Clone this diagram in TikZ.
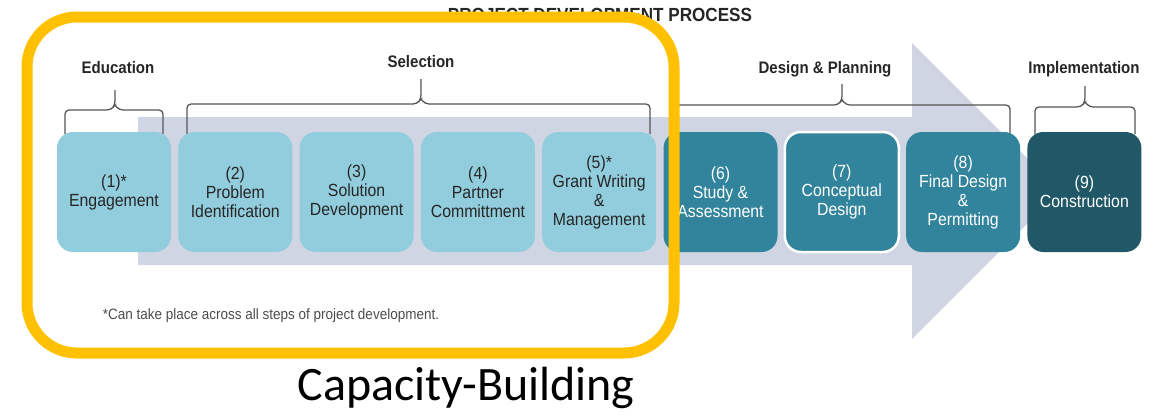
\documentclass[tikz,border=0pt]{standalone}
\usepackage{fontspec}
\usepackage{xcolor}
\usepackage{tikz}
\usetikzlibrary{positioning,calc}
\setmainfont{Liberation Sans}
\newfontfamily\narrowsans[FakeStretch=0.9]{Liberation Sans}
\newfontfamily\slidefont{Carlito}
\definecolor{stagelight}{RGB}{146,205,221}
\definecolor{stageteal}{RGB}{49,132,155}
\definecolor{stagedark}{RGB}{33,88,104}
\definecolor{flowgray}{RGB}{208,213,228}
\definecolor{capyellow}{RGB}{255,192,0}
\definecolor{bracegray}{RGB}{85,85,85}

\begin{document}
\begin{tikzpicture}[x=1pt,y=-1pt,
    stage/.style={rounded corners=16pt, minimum width=114pt, minimum height=120pt, inner sep=2pt, align=center, font=\narrowsans\fontsize{17.6}{19}\selectfont},
    early/.style={stage, fill=stagelight, text=black!85},
    late/.style={stage, fill=stageteal, text=white},
    built/.style={stage, fill=stagedark, text=white},
    phase/.style={font=\narrowsans\bfseries\fontsize{16.7}{18}\selectfont, text=black!85},
    brace/.style={draw=bracegray, line width=1.3pt, rounded corners=4pt},
    capacity/.style={draw=capyellow, line width=11pt, rounded corners=50pt}
]
    \useasboundingbox (0,0) rectangle (1159,416);

    % Process arrow behind the steps
    \fill[flowgray] (138,117) -- (912,117) -- (912,43) -- (1060,191)
        -- (912,339) -- (912,265) -- (138,265) -- cycle;

    % Title
    \node[font=\narrowsans\bfseries\fontsize{19}{20}\selectfont, text=black!85] (title) at (600,15) {PROJECT DEVELOPMENT PROCESS};

    % Phase labels
    \node[phase] (edu) at (118,68) {Education};
    \node[phase] (sel) at (421,62) {Selection};
    \node[phase] (dp) at (825,69) {Design \& Planning};
    \node[phase] (impl) at (1084,69) {Implementation};

    % Braces under the phase labels
    \draw[brace] (65,134) -- (65,110) -- (111,110) -- (115,105) -- (115,90);
    \draw[brace] (115,105) -- (119,110) -- (163,110) -- (163,134);
    \draw[brace] (187,134) -- (187,104) -- (417,104) -- (421,99) -- (421,79);
    \draw[brace] (421,99) -- (425,104) -- (650,104) -- (650,134);
    \draw[brace] (676,134) -- (676,105) -- (838,105) -- (842,100) -- (842,84);
    \draw[brace] (842,100) -- (846,105) -- (1010,105) -- (1010,134);
    \draw[brace] (1035,134) -- (1035,107) -- (1081,107) -- (1085,102) -- (1085,86);
    \draw[brace] (1085,102) -- (1089,107) -- (1135,107) -- (1135,134);

    % Steps
    \node[early] (s1) at (114,192) {(1)*\\Engagement};
    \node[early] (s2) at (235.3,192) {(2)\\Problem\\Identification};
    \node[early] (s3) at (356.6,192) {(3)\\Solution\\Development};
    \node[early] (s4) at (477.9,192) {(4)\\Partner\\Committment};
    \node[early] (s5) at (599.2,192) {(5)*\\Grant Writing\\\&\\Management};
    \node[late] (s6) at (720.5,192) {(6)\\Study \&\\Assessment};
    \node[late, draw=white, line width=2.5pt] (s7) at (841.8,192) {(7)\\Conceptual\\Design};
    \node[late] (s8) at (963.1,192) {(8)\\Final Design\\\&\\Permitting};
    \node[built] (s9) at (1084.4,192) {(9)\\Construction};

    % Footnote
    \node[font=\narrowsans\fontsize{15}{16}\selectfont, text=black!70] (note) at (271,316)
        {*Can take place across all steps of project development.};

    % Capacity-building frame
    \draw[capacity] (27,17) rectangle (674,353);
    \node[anchor=base, font=\slidefont\fontsize{48}{50}\selectfont] (cap) at (466,400) {Capacity-Building};
\end{tikzpicture}
\end{document}
